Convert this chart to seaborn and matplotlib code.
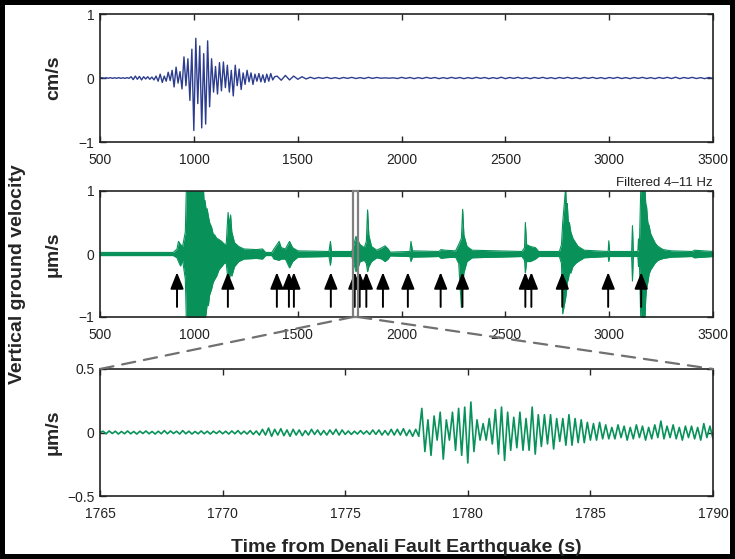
import numpy as np
import pandas as pd
import matplotlib.pyplot as plt
import seaborn as sns
from matplotlib.patches import Rectangle, ConnectionPatch

sns.set_style('ticks')
plt.rcParams['font.family'] = ['Liberation Sans', 'DejaVu Sans']

# -------------------------
# Data
# -------------------------

# top panel: broadband vertical velocity (cm/s), three sampled segments
pre_t0, pre_dt = 547, 10
pre_v = [0, 0.005, -0.005, 0.004, -0.004, 0.005, -0.005, 0.004, -0.005, 0.006,
         -0.005, 0.004, -0.006, 0.005, -0.005, 0.02, -0.025, 0.03, -0.02, 0.025,
         -0.03, 0.02, -0.015, 0.02, -0.02, 0.015, -0.03, 0.03, -0.05, 0.06]

burst_t0, burst_dt = 847, 9.5
burst_v = [-0.07, 0.03, -0.05, 0.09, -0.04, 0.12, -0.14, 0.17, -0.08, 0.1,
           -0.17, 0.33, -0.12, 0.3, -0.35, 0.45, -0.82, 0.62, -0.4, 0.5,
           -0.78, 0.38, -0.72, 0.58, -0.45, 0.3, -0.22, 0.18, -0.25, 0.24,
           -0.2, 0.25, -0.15, 0.2, -0.22, 0.12, -0.28, 0.2, -0.12, 0.14,
           -0.18, 0.08, -0.1, 0.12, -0.06, 0.08, -0.1, 0.06, -0.05, 0.07,
           -0.06, 0.05, -0.07, 0.06, -0.05, 0.07, -0.03, 0.02]

post_t0, post_dt = 1400, 20
post_v = [0.03, -0.035, 0.04, -0.03, 0.03, -0.02, 0.02, -0.015, 0.012, -0.01,
          0.008, -0.006, 0.01, -0.008, 0.006, -0.01, 0.008, -0.006, 0.01, -0.008,
          0.006, -0.008, 0.01, -0.006, 0.008, -0.003, 0.002, -0.003, 0.003, -0.008,
          0.01, -0.006, 0.008, -0.01, 0.006, -0.008, 0.01, -0.006, 0.008, -0.01,
          0.006, -0.008, 0.01, -0.006, 0.008, -0.01, 0.006, -0.008, 0.01, -0.006,
          0.008, -0.01, 0.006, -0.008, 0.012, -0.01, 0.008, -0.006, 0.01, -0.008,
          0.006, -0.01, 0.008, -0.006, 0.01, -0.008, 0.006, -0.01, 0.008, -0.006,
          0.01, -0.008, 0.006, -0.01, 0.008, -0.006, 0.01, -0.008, 0.006, -0.01,
          0.008, -0.006, 0.01, -0.008, 0.006, -0.01, 0.008, -0.006, 0.01, -0.008,
          0.006, -0.01, 0.008, -0.006, 0.01, -0.008, 0.012, -0.01, 0.008, -0.006,
          0.01, -0.008, 0.006, -0.01, 0.008, -0.006]

# middle panel: envelope of the 4-11 Hz filtered record (um/s)
env_t = [547, 900, 918, 925, 935, 945, 958, 963, 1045, 1049, 1053, 1058, 1063,
         1069, 1075, 1085, 1092, 1100, 1109, 1120, 1133, 1145, 1155, 1160, 1164,
         1170, 1176, 1182, 1195, 1215, 1240, 1300, 1330, 1345, 1375, 1385, 1410,
         1420, 1440, 1460, 1475, 1500, 1650, 1657, 1662, 1760, 1770, 1780, 1792,
         1800, 1820, 1830, 1836, 1842, 1855, 1880, 1905, 1920, 1935, 1945, 2040,
         2045, 2052, 2180, 2190, 2210, 2260, 2275, 2288, 2294, 2300, 2315, 2340,
         2580, 2592, 2596, 2602, 2620, 2645, 2660, 2760, 2770, 2776, 2790, 2794,
         2798, 2803, 2808, 2815, 2825, 2838, 2850, 2880, 2995, 2998, 3002, 3108,
         3112, 3116, 3138, 3141, 3145, 3152, 3172, 3176, 3180, 3186, 3192, 3200,
         3210, 3222, 3235, 3260, 3300, 3400, 3410, 3500]
env_hi = [0.025, 0.025, 0.08, 0.2, 0.15, 0.12, 0.35, 1.05, 1.05, 0.8, 0.85, 0.7, 0.72,
          0.6, 0.5, 0.42, 0.32, 0.3, 0.25, 0.23, 0.2, 0.16, 0.15, 0.45, 0.66,
          0.45, 0.62, 0.35, 0.18, 0.12, 0.08, 0.07, 0.08, 0.025, 0.025, 0.08, 0.2,
          0.1, 0.08, 0.2, 0.1, 0.05, 0.04, 0.2, 0.04, 0.04, 0.15, 0.28, 0.2,
          0.15, 0.1, 0.2, 0.7, 0.3, 0.12, 0.06, 0.1, 0.13, 0.08, 0.03, 0.04,
          0.2, 0.05, 0.04, 0.07, 0.06, 0.05, 0.15, 0.25, 0.71, 0.3, 0.12, 0.06,
          0.04, 0.1, 0.5, 0.15, 0.12, 0.1, 0.04, 0.04, 0.15, 0.5, 1.05, 0.75,
          0.8, 0.5, 0.5, 0.35, 0.25, 0.18, 0.12, 0.06, 0.04, 0.21, 0.04, 0.04,
          0.45, 0.04, 0.04, 0.24, 0.06, 1.05, 1.05, 0.8, 0.75, 0.5, 0.45, 0.32,
          0.25, 0.17, 0.12, 0.07, 0.05, 0.04, 0.06, 0.04]
env_lo = [-0.025, -0.025, -0.06, -0.12, -0.19, -0.1, -0.4, -1.05, -1.05, -1.05, -1.05, -0.95, -0.8,
          -0.82, -0.65, -0.55, -0.45, -0.4, -0.35, -0.25, -0.2, -0.15, -0.14, -0.3, -0.55,
          -0.4, -0.3, -0.35, -0.2, -0.12, -0.08, -0.07, -0.08, -0.025, -0.025, -0.08, -0.1,
          -0.08, -0.08, -0.22, -0.12, -0.05, -0.04, -0.18, -0.04, -0.04, -0.15, -0.28, -0.2,
          -0.12, -0.1, -0.15, -0.28, -0.2, -0.12, -0.06, -0.08, -0.12, -0.08, -0.03, -0.04,
          -0.12, -0.05, -0.04, -0.07, -0.06, -0.05, -0.15, -0.85, -0.5, -0.3, -0.12, -0.06,
          -0.04, -0.1, -0.3, -0.12, -0.12, -0.08, -0.04, -0.04, -0.15, -0.95, -0.7, -0.6,
          -0.45, -0.4, -0.3, -0.3, -0.2, -0.15, -0.12, -0.06, -0.04, -0.12, -0.04, -0.04,
          -0.43, -0.04, -0.04, -0.2, -0.06, -1.05, -1.05, -0.7, -0.55, -0.45, -0.32, -0.25,
          -0.2, -0.14, -0.1, -0.07, -0.05, -0.04, -0.06, -0.04]

# arrival times marked with arrows (s)
arrow_t = [918, 1163, 1399, 1457, 1481, 1659, 1774, 1798, 1830, 1910, 2030,
           2188, 2293, 2596, 2625, 2774, 2995, 3154]

# zoom window
win_start, win_end = 1765, 1790

# bottom panel: zoomed 4-11 Hz record (um/s), 0.125 s sampling
bot_t0, bot_dt = 1765, 0.125
bot_v = [0.0, 0.01, -0.01, 0.012, -0.008, 0.01, -0.012, 0.008, -0.01, 0.012, -0.01, 0.008, -0.012, 0.01, -0.008, 0.012,
         -0.01, 0.008, -0.012, 0.01, -0.01, 0.015, -0.01, 0.012, -0.008, 0.01, -0.012, 0.015, -0.01, 0.01, -0.012, 0.008,
         -0.01, 0.012, -0.01, 0.01, -0.012, 0.01, -0.008, 0.012, -0.01, 0.01, -0.012, 0.012, -0.01, 0.015, -0.012, 0.01,
         -0.012, 0.015, -0.015, 0.012, -0.02, 0.025, -0.02, 0.035, -0.03, 0.025, -0.02, 0.03, -0.025, 0.02, -0.03, 0.025,
         -0.02, 0.02, -0.025, 0.015, -0.02, 0.025, -0.015, 0.02, -0.02, 0.015, -0.02, 0.02, -0.015, 0.025, -0.02, 0.02,
         -0.015, 0.012, -0.015, 0.01, -0.012, 0.015, -0.012, 0.012, -0.015, 0.02, -0.015, 0.02, -0.02, 0.015, -0.02, 0.025,
         -0.02, 0.025, -0.02, 0.03, -0.025, 0.02, -0.03, 0.025, -0.03, 0.19, -0.15, 0.1, -0.18, 0.13, -0.06, 0.16,
         -0.21, 0.1, -0.06, 0.16, -0.14, 0.19, -0.18, 0.2, -0.24, 0.24, -0.15, 0.1, -0.06, 0.07, -0.06, 0.11,
         -0.09, 0.18, -0.17, 0.2, -0.22, 0.16, -0.14, 0.12, -0.12, 0.16, -0.14, 0.11, -0.14, 0.2, -0.17, 0.14,
         -0.11, 0.14, -0.09, 0.14, -0.13, 0.11, -0.07, 0.11, -0.1, 0.14, -0.1, 0.11, -0.08, 0.1, -0.08, 0.08,
         -0.06, 0.07, -0.06, 0.08, -0.05, 0.06, -0.05, 0.04, -0.05, 0.06, -0.04, 0.05, -0.06, 0.04, -0.05, 0.06,
         -0.04, 0.05, -0.06, 0.04, -0.05, 0.06, -0.04, 0.09, -0.05, 0.05, -0.04, 0.06, -0.05, 0.04, -0.06, 0.05,
         -0.04, 0.05, -0.05, 0.04, -0.06, 0.07, -0.04, 0.05, -0.05]

wide_ticks = [547, 1000, 1500, 2000, 2500, 3000, 3500]
wide_labels = ['500', '1000', '1500', '2000', '2500', '3000', '3500']
zoom_ticks = [1765, 1770, 1775, 1780, 1785, 1790]

blue = '#2c3d8f'
green = '#08925a'

top_t = np.concatenate([pre_t0 + pre_dt * np.arange(len(pre_v)),
                        burst_t0 + burst_dt * np.arange(len(burst_v)),
                        post_t0 + post_dt * np.arange(len(post_v))])
df_top = pd.DataFrame({'t': top_t, 'v': pre_v + burst_v + post_v})
df_env = pd.DataFrame({'t': env_t, 'hi': env_hi, 'lo': env_lo})
df_bot = pd.DataFrame({'t': bot_t0 + bot_dt * np.arange(len(bot_v)), 'v': bot_v})

# -------------------------
# Figure
# -------------------------
fig = plt.figure(figsize=(7.35, 5.59), dpi=100, facecolor='white',
                 edgecolor='black', linewidth=7)
ax1 = fig.add_axes([100/735, 1 - 142/559, 613/735, 128/559])
ax2 = fig.add_axes([100/735, 1 - 317/559, 613/735, 126/559])
ax3 = fig.add_axes([100/735, 1 - 496/559, 613/735, 127/559])

# 1. broadband trace
sns.lineplot(data=df_top, x='t', y='v', ax=ax1, color=blue, lw=1.0,
             estimator=None, sort=False)
ax1.set_xlim(547, 3500)
ax1.set_ylim(-1, 1)
ax1.set_xticks(wide_ticks, wide_labels)
ax1.set_yticks([-1, 0, 1], ['\u22121', '0', '1'])
ax1.set_ylabel('cm/s')

# 2. filtered trace (envelope) with arrivals
ax2.fill_between(df_env['t'], df_env['lo'], df_env['hi'], color=green, lw=0)
sns.lineplot(data=df_env, x='t', y='hi', ax=ax2, color=green, lw=0.8, estimator=None)
sns.lineplot(data=df_env, x='t', y='lo', ax=ax2, color=green, lw=0.8, estimator=None)
for t in arrow_t:
    ax2.annotate('', xy=(t, -0.29), xytext=(t, -0.84),
                 arrowprops=dict(arrowstyle='-|>,head_length=1.0,head_width=0.4',
                                 color='black', lw=1.4, shrinkA=0, shrinkB=0),
                 zorder=5)
ax2.add_patch(Rectangle((win_start, -1), win_end - win_start, 2, fill=False,
                        edgecolor='#808080', lw=1.6, clip_on=False, zorder=6))
ax2.set_xlim(547, 3500)
ax2.set_ylim(-1, 1)
ax2.set_xticks(wide_ticks, wide_labels)
ax2.set_yticks([-1, 0, 1], ['\u22121', '0', '1'])
ax2.set_ylabel('\u03bcm/s')
ax2.text(1.0, 1.015, 'Filtered 4\u201311 Hz', transform=ax2.transAxes,
         ha='right', va='bottom', fontsize=9.5, color='#222222')

# 3. zoom window
sns.lineplot(data=df_bot, x='t', y='v', ax=ax3, color=green, lw=1.2,
             estimator=None, sort=False)
ax3.set_xlim(win_start, win_end)
ax3.set_ylim(-0.5, 0.5)
ax3.set_xticks(zoom_ticks, [str(t) for t in zoom_ticks])
ax3.set_yticks([-0.5, 0, 0.5], ['\u22120.5', '0', '0.5'])
ax3.set_ylabel('\u03bcm/s')
ax3.set_xlabel('Time from Denali Fault Earthquake (s)', fontsize=14,
               fontweight='bold', labelpad=13)

# dashed lines linking the window to the zoom panel
for x in [win_start, win_end]:
    con = ConnectionPatch(xyA=(x, -1), coordsA=ax2.transData,
                          xyB=(x, 0.5), coordsB=ax3.transData,
                          color='#707070', lw=1.6, linestyle=(0, (6, 4)))
    fig.add_artist(con)

for ax in [ax1, ax2, ax3]:
    if ax is not ax3:
        ax.set_xlabel('')
    ax.yaxis.label.set_fontsize(14)
    ax.yaxis.label.set_fontweight('bold')
    ax.yaxis.set_label_coords(-0.062, 0.5)
    ax.tick_params(direction='in', top=True, right=True, length=4, width=1,
                   labelsize=10, labelcolor='#222222', pad=4)
    ax.tick_params(axis='x', pad=8)
    for s in ax.spines.values():
        s.set_linewidth(1.2)
        s.set_color('#222222')
        s.set_visible(True)

fig.text(0.024, 0.51, 'Vertical ground velocity', rotation=90, ha='center',
         va='center', fontsize=14, fontweight='bold')

fig.savefig('out.png', dpi=100)
